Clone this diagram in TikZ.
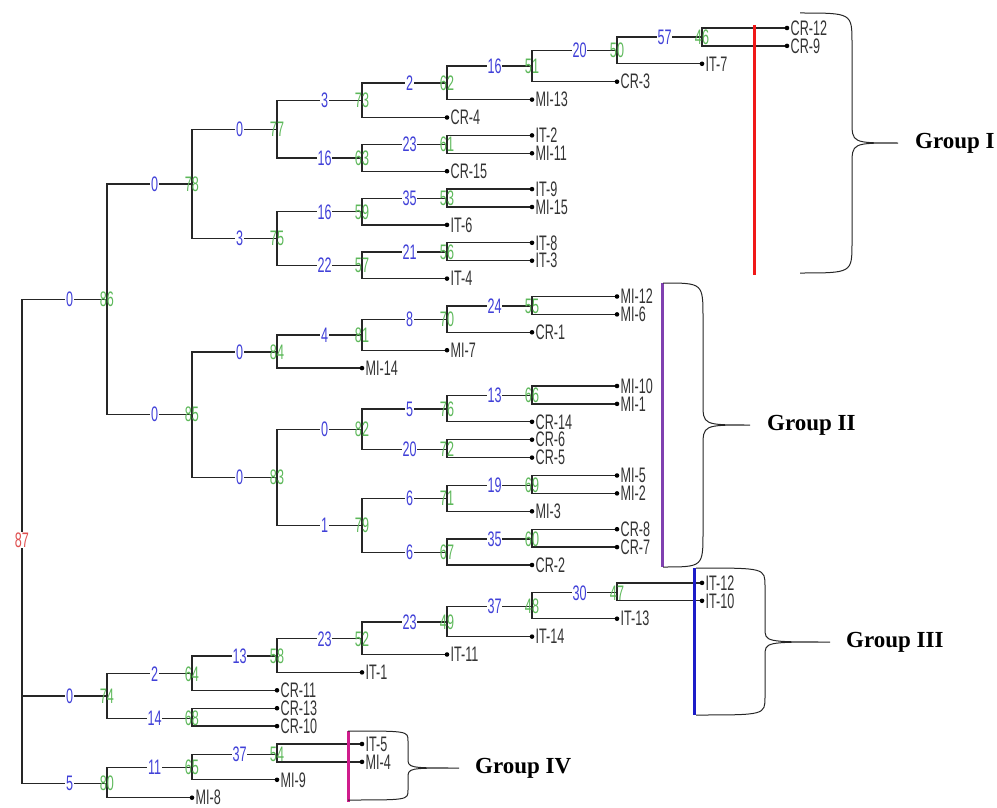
\documentclass[tikz,border=0pt]{standalone}
\usepackage{fontspec}
\usepackage{tikz}
\usetikzlibrary{positioning}
\newfontfamily\dendfont[FakeStretch=0.6]{Liberation Sans}
\newfontfamily\groupfont{Liberation Serif}
\definecolor{bootblue}{HTML}{4040D8}
\definecolor{cladegreen}{HTML}{5DB85A}
\definecolor{rootred}{HTML}{E05050}
\definecolor{cutred}{HTML}{F01818}
\definecolor{cutpurple}{HTML}{8040B0}
\definecolor{cutblue}{HTML}{1C1CC8}
\definecolor{cutpink}{HTML}{D01C8C}

% brace: tip name, left x, top y, bottom y, spine x, tip x, tip y, corner, tip bend
\newcommand{\groupbrace}[9]{%
  \draw[brace] (#2,#3) .. controls (#5,#3) .. (#5,#3+#8)
    -- (#5,#7-#9) .. controls (#5,#7) .. (#6,#7)
    .. controls (#5,#7) .. (#5,#7+#9)
    -- (#5,#4-#8) .. controls (#5,#4) .. (#2,#4);
  \coordinate (#1) at (#6,#7);}

\begin{document}
\begin{tikzpicture}[x=1pt, y=-1pt,
  branch/.style={draw=black!85, line width=1.3pt},
  taxon/.style={circle, fill=black, inner sep=0pt, minimum size=4.6pt,
    label={[taxontext]right:#1}},
  taxontext/.style={font=\dendfont\fontsize{21}{21}\selectfont, text=black!80, inner sep=0pt, label distance=1pt},
  boot/.style={font=\dendfont\fontsize{21}{21}\selectfont, text=bootblue, fill=white, inner sep=0.6pt},
  clade/.style={font=\dendfont\fontsize{21}{21}\selectfont, text=cladegreen, inner sep=0pt},
  rootnum/.style={font=\dendfont\fontsize{21}{21}\selectfont, text=rootred, fill=white, inner sep=1pt},
  cut/.style={line width=3pt},
  brace/.style={draw=black!85, line width=1pt},
  grouplabel/.style={font=\groupfont\bfseries\fontsize{23}{23}\selectfont, anchor=west, inner sep=0pt}
]
  \useasboundingbox (0,0) rectangle (997,808);

  % leaves, top to bottom
  \foreach \n/\lab/\lv [count=\i] in {cr12/CR-12/9, cr9/CR-9/9, it7/IT-7/8, cr3/CR-3/7,
      mi13/MI-13/6, cr4/CR-4/5, it2/IT-2/6, mi11/MI-11/6, cr15/CR-15/5, it9/IT-9/6,
      mi15/MI-15/6, it6/IT-6/5, it8/IT-8/6, it3/IT-3/6, it4/IT-4/5, mi12/MI-12/7,
      mi6/MI-6/7, cr1/CR-1/6, mi7/MI-7/5, mi14/MI-14/4, mi10/MI-10/7, mi1/MI-1/7,
      cr14/CR-14/6, cr6/CR-6/6, cr5/CR-5/6, mi5/MI-5/7, mi2/MI-2/7, mi3/MI-3/6,
      cr8/CR-8/7, cr7/CR-7/7, cr2/CR-2/6, it12/IT-12/8, it10/IT-10/8, it13/IT-13/7,
      it14/IT-14/6, it11/IT-11/5, it1/IT-1/4, cr11/CR-11/3, cr13/CR-13/3, cr10/CR-10/3,
      it5/IT-5/4, mi4/MI-4/4, mi9/MI-9/3, mi8/MI-8/2}
    \coordinate (\n) at ({22+85*\lv},{28+(\i-1)*17.9});

  % clades: number/level/y
  \coordinate (n87) at (22,540);
  \foreach \k/\lv/\y in {86/1/299.3, 74/1/696.0, 80/1/783.3,
      78/2/184.0, 85/2/414.6, 64/2/673.8, 68/2/718.3, 65/2/767.6,
      77/3/129.2, 75/3/238.7, 84/3/351.9, 83/3/477.4, 58/3/656.1, 54/3/754.2,
      73/4/100.3, 63/4/158.0, 59/4/211.8, 57/4/265.6, 81/4/335.0, 82/4/429.2, 79/4/525.5, 52/4/638.8,
      62/5/82.9, 61/5/144.6, 53/5/198.3, 56/5/252.1, 70/5/319.4, 76/5/409.0, 72/5/449.4,
      71/5/498.6, 67/5/552.4, 49/5/621.9,
      51/6/66.1, 55/6/305.9, 66/6/395.6, 69/6/485.2, 60/6/539.0, 48/6/606.2,
      50/7/50.4, 47/7/592.8, 46/8/37.0}
    \coordinate (n\k) at ({22+85*\lv},\y);

  % branches to clades
  \foreach \pa/\ch/\bs in {87/86/0, 87/74/0, 87/80/5, 86/78/0, 86/85/0, 78/77/0, 78/75/3,
      77/73/3, 77/63/16, 73/62/2, 62/51/16, 51/50/20, 50/46/57, 63/61/23,
      75/59/16, 75/57/22, 59/53/35, 57/56/21, 85/84/0, 85/83/0, 84/81/4, 81/70/8,
      70/55/24, 83/82/0, 83/79/1, 82/76/5, 82/72/20, 76/66/13, 79/71/6, 79/67/6,
      71/69/19, 67/60/35, 74/64/2, 74/68/14, 64/58/13, 58/52/23, 52/49/23,
      49/48/37, 48/47/30, 80/65/11, 65/54/37}
    \draw[branch] (n\pa) |- node[boot, pos=0.78] {\bs} (n\ch);

  % branches to leaves
  \foreach \pa/\ch in {46/cr12, 46/cr9, 50/it7, 51/cr3, 62/mi13, 73/cr4, 61/it2, 61/mi11,
      63/cr15, 53/it9, 53/mi15, 59/it6, 56/it8, 56/it3, 57/it4, 55/mi12, 55/mi6,
      70/cr1, 81/mi7, 84/mi14, 66/mi10, 66/mi1, 76/cr14, 72/cr6, 72/cr5, 69/mi5,
      69/mi2, 71/mi3, 60/cr8, 60/cr7, 67/cr2, 47/it12, 47/it10, 48/it13, 49/it14,
      52/it11, 58/it1, 64/cr11, 68/cr13, 68/cr10, 54/it5, 54/mi4, 65/mi9, 80/mi8}
    \draw[branch] (n\pa) |- (\ch);

  % leaf tips and names
  \foreach \n/\lab in {cr12/CR-12, cr9/CR-9, it7/IT-7, cr3/CR-3, mi13/MI-13, cr4/CR-4,
      it2/IT-2, mi11/MI-11, cr15/CR-15, it9/IT-9, mi15/MI-15, it6/IT-6, it8/IT-8,
      it3/IT-3, it4/IT-4, mi12/MI-12, mi6/MI-6, cr1/CR-1, mi7/MI-7, mi14/MI-14,
      mi10/MI-10, mi1/MI-1, cr14/CR-14, cr6/CR-6, cr5/CR-5, mi5/MI-5, mi2/MI-2,
      mi3/MI-3, cr8/CR-8, cr7/CR-7, cr2/CR-2, it12/IT-12, it10/IT-10, it13/IT-13,
      it14/IT-14, it11/IT-11, it1/IT-1, cr11/CR-11, cr13/CR-13, cr10/CR-10,
      it5/IT-5, mi4/MI-4, mi9/MI-9, mi8/MI-8}
    \node[taxon=\lab] (t-\n) at (\n) {};

  % clade numbers
  \foreach \k in {86,74,80,78,85,64,68,65,77,75,84,83,58,54,73,63,59,57,81,82,79,52,
      62,61,53,56,70,76,72,71,67,49,51,55,66,69,60,48,50,47,46}
    \node[clade] (c\k) at (n\k) {\k};
  \node[rootnum] (c87) at (n87) {87};

  % cut lines
  \draw[cut, cutred] (754,25) -- (754,275);
  \draw[cut, cutpurple] (662,283) -- (662,567);
  \draw[cut, cutblue] (694,568) -- (694,715);
  \draw[cut, cutpink] (348,731) -- (348,802);

  % groups
  \groupbrace{tipI}{800}{13}{273}{852}{898}{143}{30}{22}
  \groupbrace{tipII}{663}{283}{567}{703}{750}{425}{35}{22}
  \groupbrace{tipIII}{696}{568}{715}{765}{830}{642}{18}{14}
  \groupbrace{tipIV}{348}{731}{800}{408}{459}{768}{10}{10}
  \node[grouplabel, right=17pt of tipI] (groupI) {Group I};
  \node[grouplabel, right=17pt of tipII] (groupII) {Group II};
  \node[grouplabel, right=16pt of tipIII] (groupIII) {Group III};
  \node[grouplabel, right=16pt of tipIV] (groupIV) {Group IV};
\end{tikzpicture}
\end{document}
